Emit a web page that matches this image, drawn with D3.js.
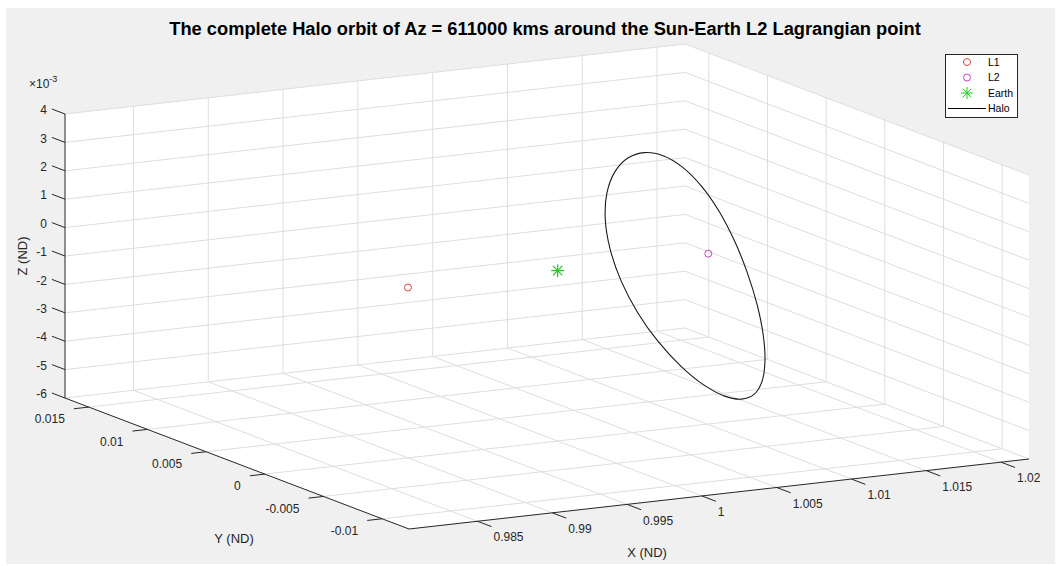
<!DOCTYPE html>
<html><head><meta charset="utf-8">
<script src="https://cdn.jsdelivr.net/npm/d3@7"></script>
<style>
body{margin:0;background:#fff}
svg{display:block}
text{font-family:"Liberation Sans",Arial,Helvetica,sans-serif;fill:#262626}
</style></head><body>
<svg id="chart" width="1061" height="566"></svg>
<script>
// ---- data ----
const xLimits = [0.98042, 1.02187];
const yLimits = [-0.01229, 0.01703];
const zLimits = [-0.006, 0.004];
const xTicks = [0.985, 0.99, 0.995, 1, 1.005, 1.01, 1.015, 1.02];
const yTicks = [-0.01, -0.005, 0, 0.005, 0.01, 0.015];
const zTicks = [-0.006, -0.005, -0.004, -0.003, -0.002, -0.001, 0, 0.001, 0.002, 0.003, 0.004];
const L1 = [0.98999, 0, 0];
const L2 = [1.01007, 0, 0];
const Earth = [0.999997, 0, 0];
const haloX = [1.00705,1.00707,1.00715,1.00731,1.00756,1.00793,1.00842,1.00899,1.0096,1.01019,1.01069,1.01101,1.01113,1.01101,1.01069,1.01019,1.0096,1.00899,1.00842,1.00793,1.00756,1.00731,1.00715,1.00707];
const haloY = [0,0.00162,0.003135,0.004434,0.00543,0.006056,0.00627,0.006056,0.00543,0.004434,0.003135,0.00162,0,-0.00162,-0.003135,-0.004434,-0.00543,-0.006056,-0.00627,-0.006056,-0.00543,-0.004434,-0.003135,-0.00162];
const haloZ = [0.003628,0.00348,0.003045,0.002354,0.001453,0.000404,-0.000722,-0.001848,-0.002897,-0.003798,-0.004489,-0.004924,-0.005072,-0.004924,-0.004489,-0.003798,-0.002897,-0.001848,-0.000722,0.000404,0.001453,0.002354,0.003045,0.00348];
const legendLabels = ["L1", "L2", "Earth", "Halo"];
const titleText = "The complete Halo orbit of Az = 611000 kms around the Sun-Earth L2 Lagrangian point";

// ---- projection (orthographic, MATLAB-like view) ----
const origin = [409, 529];          // screen point of (xmin, ymin, zmin)
const ex = [620, -70], ey = [-344, -131], ez = [0, -284];
const su = d3.scaleLinear().domain(xLimits).range([0, 1]);
const sv = d3.scaleLinear().domain(yLimits).range([0, 1]);
const sw = d3.scaleLinear().domain(zLimits).range([0, 1]);
function P(x, y, z) {
  const u = su(x), v = sv(y), w = sw(z);
  return [origin[0] + u*ex[0] + v*ey[0] + w*ez[0], origin[1] + u*ex[1] + v*ey[1] + w*ez[1]];
}
const [x0, x1] = xLimits, [y0, y1] = yLimits, [z0, z1] = zLimits;

const svg = d3.select("#chart");
svg.append("rect").attr("x", 6).attr("y", 8).attr("width", 1049).attr("height", 556).attr("fill", "#f0f0f0");

const poly = pts => "M" + pts.map(p => p.join(",")).join("L") + "Z";
const g = svg.append("g");
// walls
g.append("path").attr("d", poly([P(x0,y0,z0), P(x1,y0,z0), P(x1,y1,z0), P(x0,y1,z0)])).attr("fill", "#fff");
g.append("path").attr("d", poly([P(x0,y1,z0), P(x1,y1,z0), P(x1,y1,z1), P(x0,y1,z1)])).attr("fill", "#fff");
g.append("path").attr("d", poly([P(x1,y0,z0), P(x1,y1,z0), P(x1,y1,z1), P(x1,y0,z1)])).attr("fill", "#fff");

// grid
const gridSegs = [];
xTicks.forEach(t => { gridSegs.push([P(t,y1,z0), P(t,y1,z1)]); gridSegs.push([P(t,y0,z0), P(t,y1,z0)]); });
yTicks.forEach(t => { gridSegs.push([P(x1,t,z0), P(x1,t,z1)]); gridSegs.push([P(x0,t,z0), P(x1,t,z0)]); });
zTicks.forEach(t => { gridSegs.push([P(x0,y1,t), P(x1,y1,t)]); gridSegs.push([P(x1,y0,t), P(x1,y1,t)]); });
g.selectAll("line.grid").data(gridSegs).join("line").attr("class","grid")
  .attr("x1", d => d[0][0]).attr("y1", d => d[0][1]).attr("x2", d => d[1][0]).attr("y2", d => d[1][1])
  .attr("stroke", "#dedede").attr("stroke-width", 1);

// axis lines
const axisCol = "#262626";
const axes = [[P(x0,y0,z0), P(x1,y0,z0)], [P(x0,y0,z0), P(x0,y1,z0)], [P(x0,y1,z0), P(x0,y1,z1)]];
g.selectAll("line.axis").data(axes).join("line").attr("class","axis")
  .attr("x1", d => d[0][0]).attr("y1", d => d[0][1]).attr("x2", d => d[1][0]).attr("y2", d => d[1][1])
  .attr("stroke", axisCol).attr("stroke-width", 1);

function unit(v){const l=Math.hypot(v[0],v[1]);return [v[0]/l,v[1]/l];}
const dEX = unit(ex), dEY = unit(ey);
const tickLen = 15;
// X ticks
xTicks.forEach(t => {
  const p = P(t, y0, z0);
  g.append("line").attr("x1", p[0]).attr("y1", p[1]).attr("x2", p[0] - dEY[0]*tickLen).attr("y2", p[1] - dEY[1]*tickLen).attr("stroke", axisCol);
  g.append("text").attr("x", p[0] + 16).attr("y", p[1] + 16).attr("dy", "0.35em").attr("font-size", 12).text(String(t));
});
// Y ticks
yTicks.forEach(t => {
  const p = P(x0, t, z0);
  g.append("line").attr("x1", p[0]).attr("y1", p[1]).attr("x2", p[0] - dEX[0]*tickLen).attr("y2", p[1] - dEX[1]*tickLen).attr("stroke", axisCol);
  g.append("text").attr("x", p[0] - 24).attr("y", p[1] + 12).attr("dy", "0.35em").attr("text-anchor", "end").attr("font-size", 12).text(String(t));
});
// Z ticks
zTicks.forEach(t => {
  const p = P(x0, y1, t);
  g.append("line").attr("x1", p[0]).attr("y1", p[1]).attr("x2", p[0] + dEY[0]*14).attr("y2", p[1] + dEY[1]*14).attr("stroke", axisCol);
  g.append("text").attr("x", p[0] - 18).attr("y", p[1] - 4).attr("dy", "0.35em").attr("text-anchor", "end").attr("font-size", 12).text(String(Math.round(t*1000)));
});
// exponent
const ex3 = g.append("text").attr("x", 29).attr("y", 88).attr("font-size", 12);
ex3.append("tspan").text("\u00d710");
ex3.append("tspan").attr("dy", -6).attr("font-size", 9).text("-3");

// axis labels
g.append("text").attr("x", 647).attr("y", 552).attr("dy","0.35em").attr("text-anchor","middle").attr("font-size", 13).text("X (ND)");
g.append("text").attr("x", 234).attr("y", 538).attr("dy","0.35em").attr("text-anchor","middle").attr("font-size", 13).text("Y (ND)");
g.append("text").attr("transform","translate(22,256) rotate(-90)").attr("dy","0.35em").attr("text-anchor","middle").attr("font-size", 13).text("Z (ND)");

// title
svg.append("text").attr("x", 545).attr("y", 35).attr("text-anchor","middle").attr("font-size", 18.3).attr("font-weight","bold").style("fill","#000").text(titleText);

// halo
const haloPts = haloX.map((x, i) => P(x, haloY[i], haloZ[i]));
g.append("path").attr("d", d3.line().curve(d3.curveCatmullRomClosed)(haloPts)).attr("fill","none").attr("stroke","#1a1a1a").attr("stroke-width",1.1);

// markers
const colL1 = "#d64545", colL2 = "#cc44cc", colE = "#22cc22";
function circle(p, col){ g.append("circle").attr("cx",p[0]).attr("cy",p[1]).attr("r",3.5).attr("fill","none").attr("stroke",col).attr("stroke-width",1); }
function star(p, col, r){
  const a = r*0.72;
  [[0,-r,0,r],[-r,0,r,0],[-a,-a,a,a],[-a,a,a,-a]].forEach(s => g.append("line").attr("x1",p[0]+s[0]).attr("y1",p[1]+s[1]).attr("x2",p[0]+s[2]).attr("y2",p[1]+s[3]).attr("stroke",col).attr("stroke-width",1.2));
}
circle(P(...L1), colL1);
circle(P(...L2), colL2);
star(P(...Earth), colE, 6.5);

// legend
const lg = svg.append("g");
lg.append("rect").attr("x",945.5).attr("y",54.5).attr("width",72).attr("height",63).attr("fill","#fff").attr("stroke","#262626").attr("stroke-width",1);
const rowY = [62, 77.5, 93, 108.5];
legendLabels.forEach((lab, i) => {
  lg.append("text").attr("x", 988).attr("y", rowY[i]).attr("dy","0.35em").attr("font-size", 10.5).style("fill","#000").text(lab);
});
function lcircle(p, col){ lg.append("circle").attr("cx",p[0]).attr("cy",p[1]).attr("r",3.5).attr("fill","none").attr("stroke",col); }
lcircle([967, rowY[0]], colL1);
lcircle([967, rowY[1]], colL2);
[[0,-6,0,6],[-6,0,6,0],[-4.3,-4.3,4.3,4.3],[-4.3,4.3,4.3,-4.3]].forEach(s => lg.append("line").attr("x1",967+s[0]).attr("y1",rowY[2]+s[1]).attr("x2",967+s[2]).attr("y2",rowY[2]+s[3]).attr("stroke",colE));
lg.append("line").attr("x1",948).attr("x2",986).attr("y1",rowY[3]).attr("y2",rowY[3]).attr("stroke","#000");
</script>
</body></html>
